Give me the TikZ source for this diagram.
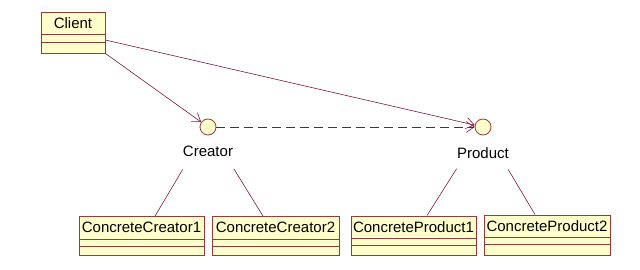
\documentclass[tikz,border=0pt]{standalone}
\usepackage{fontspec}
\setmainfont{Liberation Sans}
\usetikzlibrary{arrows.meta}
\definecolor{boxfill}{RGB}{255,255,204}
\definecolor{boxline}{RGB}{150,60,60}
\definecolor{linkcol}{RGB}{128,20,70}
\begin{document}
\begin{tikzpicture}[x=1pt,y=-1pt,
  classbox/.style={draw=boxline, fill=boxfill, line width=0.9pt, inner sep=0pt, rectangle},
  classname/.style={inner sep=0pt, font=\fontsize{15}{17}\selectfont},
  iface/.style={circle, draw=boxline, fill=boxfill, line width=0.8pt, minimum size=16pt, inner sep=0pt},
  ifacename/.style={inner sep=0pt, font=\fontsize{15}{17}\selectfont},
  link/.style={draw=linkcol, line width=0.6pt},
  openarrow/.style={-{Straight Barb[length=8pt,width=11pt,line width=0.6pt]}},
  depline/.style={dash pattern=on 9pt off 5pt}
]
\useasboundingbox (0,0) rectangle (640,270);

% Client
\node[classbox, minimum width=64pt, minimum height=41pt] (client) at (73,32.5) {};
\node[classname] (clientname) at ([yshift=-11.5]client.north) {Client};
\draw[boxline, line width=0.9pt] ([yshift=-23]client.north west) -- ([yshift=-23]client.north east);
\draw[boxline, line width=0.9pt] ([yshift=-31]client.north west) -- ([yshift=-31]client.north east);

% Interfaces
\node[iface] (creator) at (208,127) {};
\node[ifacename] (creatorname) at (208,151) {Creator};
\node[iface] (product) at (483,127) {};
\node[ifacename] (productname) at (483,153) {Product};

% Concrete classes
\node[classbox, minimum width=125pt, minimum height=39pt] (cc1) at (141.5,236) {};
\node[classname] at ([yshift=-11.5]cc1.north) {ConcreteCreator1};
\node[classbox, minimum width=127pt, minimum height=39pt] (cc2) at (275.5,236) {};
\node[classname] at ([yshift=-11.5]cc2.north) {ConcreteCreator2};
\node[classbox, minimum width=125pt, minimum height=39pt] (cp1) at (413.5,235.5) {};
\node[classname] at ([yshift=-11.5]cp1.north) {ConcreteProduct1};
\node[classbox, minimum width=126pt, minimum height=40pt] (cp2) at (547,235) {};
\node[classname] at ([yshift=-11.5]cp2.north) {ConcreteProduct2};

\foreach \b in {cc1,cc2,cp1,cp2}{
  \draw[boxline, line width=0.9pt] ([yshift=-23]\b.north west) -- ([yshift=-23]\b.north east);
  \draw[boxline, line width=0.9pt] ([yshift=-30]\b.north west) -- ([yshift=-30]\b.north east);
}

% Connectors
\draw[link, openarrow] (client.south east) -- (creator);
\draw[link, openarrow] ([yshift=-7.5]client.east) -- (product);
\draw[link, openarrow, depline] (creator) -- (product);

\draw[link, shorten <=41pt] (creator) -- ([xshift=13.5]cc1.north);
\draw[link, shorten <=41pt] (creator) -- ([xshift=-12.5]cc2.north);
\draw[link, shorten <=41pt] (product) -- ([xshift=13.5]cp1.north);
\draw[link, shorten <=41pt] (product) -- ([xshift=-12]cp2.north);
\end{tikzpicture}
\end{document}
